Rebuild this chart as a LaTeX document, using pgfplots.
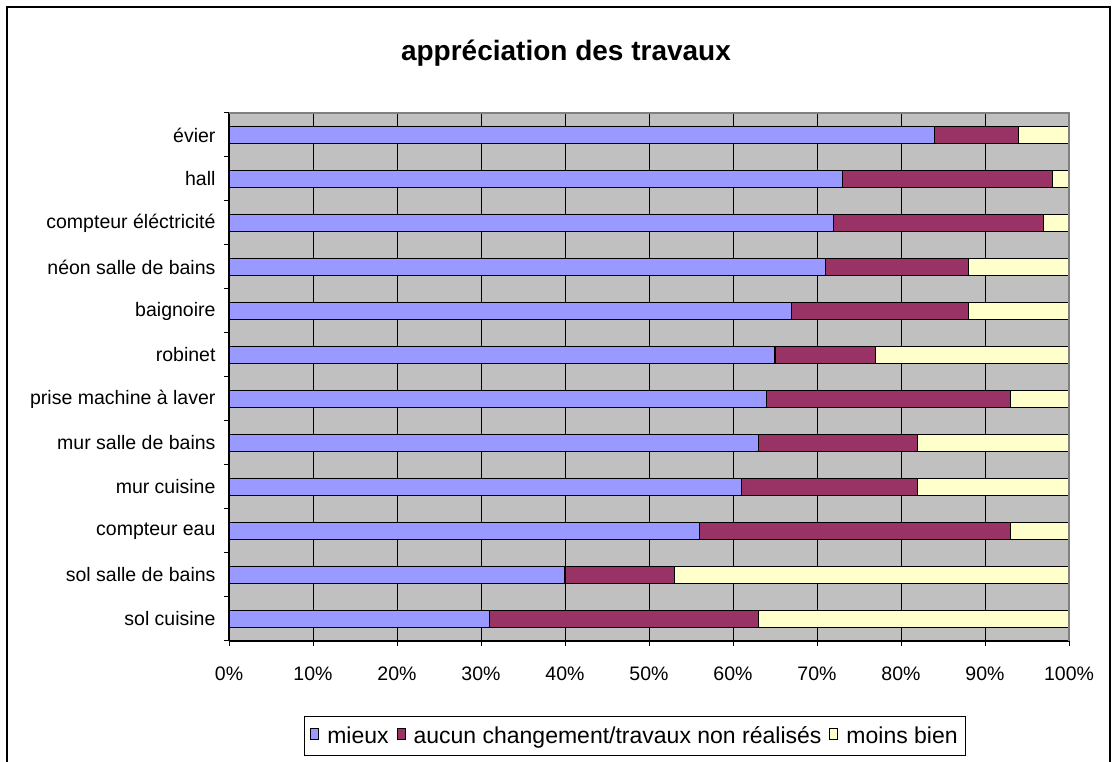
\documentclass[border=0pt]{standalone}
\usepackage{pgfplots}
\usepackage{pgfplotstable}
\pgfplotsset{compat=1.18}
\usepackage{fontspec}
\setmainfont{Liberation Sans}
\definecolor{cmieux}{RGB}{153,153,255}
\definecolor{caucun}{RGB}{153,51,102}
\definecolor{cmoins}{RGB}{255,255,204}
\definecolor{cbg}{RGB}{192,192,192}
\definecolor{cframe}{RGB}{128,128,128}

\pgfplotstableread{
y mieux aucun moins
0 31 32 37
1 40 13 47
2 56 37 7
3 61 21 18
4 63 19 18
5 64 29 7
6 65 12 23
7 67 21 12
8 71 17 12
9 72 25 3
10 73 25 2
11 84 10 6
}\data

\begin{document}
\begin{tikzpicture}[x=1pt,y=1pt]
\path[use as bounding box] (0,0) rectangle (1115,762);
\draw[black, line width=1.3pt] (7,0) -- (7,755) -- (1110,755) -- (1110,0);
\node[font=\fontsize{28}{32}\selectfont\bfseries] at (566,709) {appréciation des travaux};
\begin{axis}[
  at={(229pt,121pt)}, anchor=south west,
  scale only axis, width=840pt, height=528pt,
  xbar stacked, bar width=17pt,
  xmin=0, xmax=100, ymin=-0.5, ymax=11.5,
  axis x line*=bottom, axis y line*=left,
  axis background/.style={fill=cbg},
  xtick={0,10,...,100},
  xticklabels={0\%,10\%,20\%,30\%,40\%,50\%,60\%,70\%,80\%,90\%,100\%},
  ytick={0,...,11},
  yticklabels={sol cuisine, sol salle de bains, compteur eau, mur cuisine, mur salle de bains, prise machine à laver, robinet, baignoire, néon salle de bains, compteur éléctricité, hall, évier},
  minor ytick={-0.5,0.5,...,11.5},
  tick align=outside,
  major tick length=5pt, minor tick length=5pt,
  major y tick style={draw=none},
  minor y tick style={black, line width=1pt},
  major x tick style={black, line width=1pt},
  xmajorgrids, major x grid style={black, line width=1pt},
  axis line style={black, line width=1.2pt},
  tick label style={font=\fontsize{19.5}{22}\selectfont},
  xticklabel style={yshift=-17pt},
  yticklabel style={xshift=-5pt},
  after end axis/.code={
    \draw[cframe, line width=1.2pt] (rel axis cs:0,1) -- (rel axis cs:1,1) -- (rel axis cs:1,0);
  },
  legend style={at={(axis description cs:0.4833,-0.1800)}, anchor=center,
    legend columns=3, draw=black, line width=1.3pt,
    font=\fontsize{23}{27}\selectfont, inner xsep=6pt, inner ysep=8pt,
    /tikz/every odd column/.append style={column sep=6pt},
    /tikz/every even column/.append style={column sep=6pt}},
  legend image code/.code={\draw[#1, line width=1pt] (0pt,-3.5pt) rectangle (8pt,7.5pt);},
]
\addplot[fill=cmieux, draw=black, line width=1.2pt] table[x=mieux, y=y] {\data};
\addplot[fill=caucun, draw=black, line width=1.2pt] table[x=aucun, y=y] {\data};
\addplot[fill=cmoins, draw=black, line width=1.2pt] table[x=moins, y=y] {\data};
\legend{mieux, aucun changement/travaux non réalisés, moins bien}
\end{axis}
\end{tikzpicture}
\end{document}
